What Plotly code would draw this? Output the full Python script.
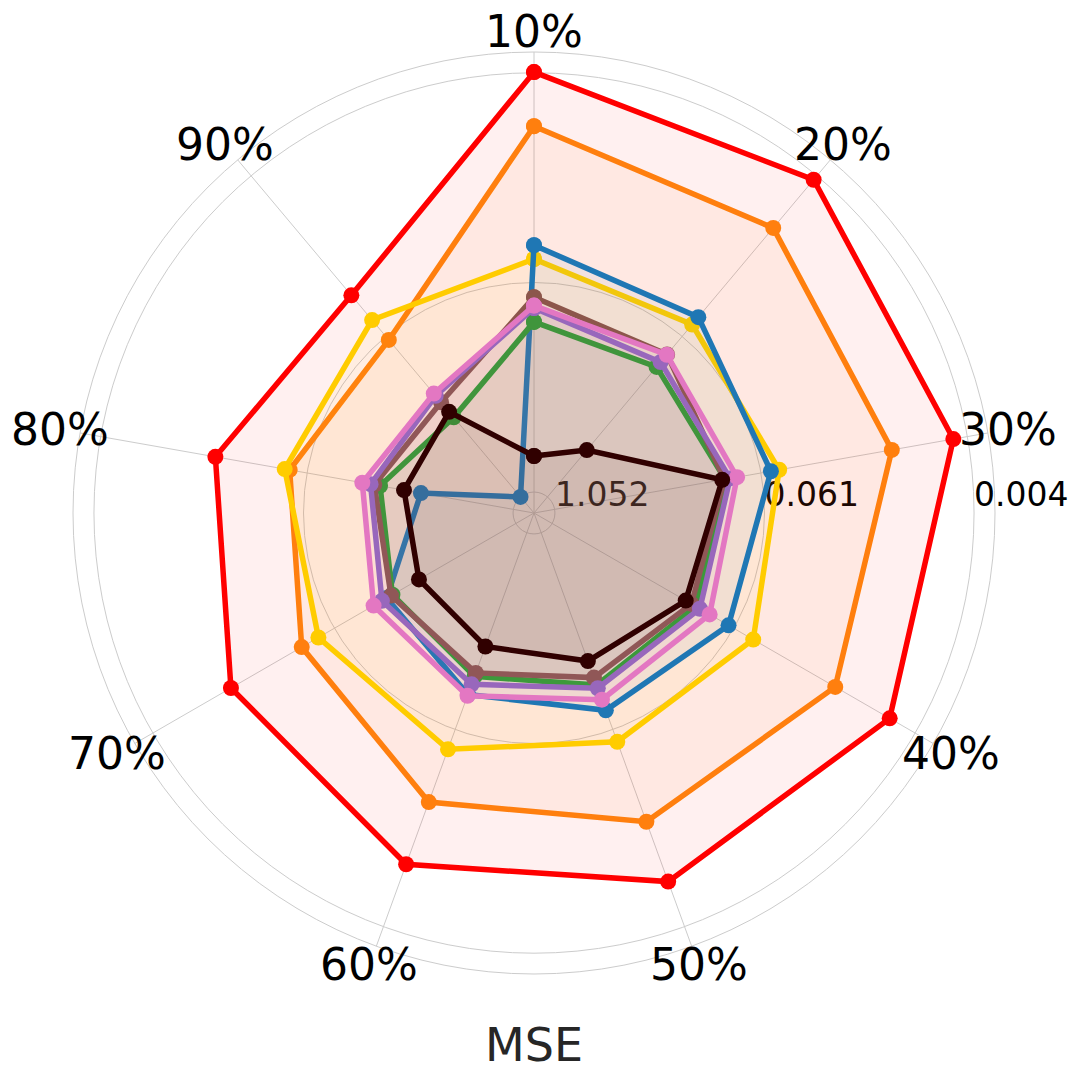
import math
import plotly.graph_objects as go

# ---------------- data ----------------
categories = ["10%", "20%", "30%", "40%", "50%", "60%", "70%", "80%", "90%"]

# radial score (outer = lower MSE)
red_vals    = [1.052, 1.038, 1.016, 0.980, 0.936, 0.892, 0.835, 0.772, 0.678]
orange_vals = [0.923, 0.888, 0.867, 0.830, 0.784, 0.734, 0.640, 0.592, 0.539]
yellow_vals = [0.606, 0.587, 0.594, 0.604, 0.581, 0.600, 0.594, 0.604, 0.601]
blue_vals   = [0.639, 0.610, 0.574, 0.536, 0.501, 0.461, 0.406, 0.274, 0.050]
green_vals  = [0.456, 0.455, 0.463, 0.446, 0.437, 0.415, 0.390, 0.373, 0.298]
brown_vals  = [0.515, 0.494, 0.461, 0.434, 0.418, 0.406, 0.394, 0.387, 0.345]
purple_vals = [0.489, 0.470, 0.475, 0.457, 0.445, 0.435, 0.419, 0.396, 0.365]
pink_vals   = [0.495, 0.493, 0.492, 0.484, 0.474, 0.464, 0.442, 0.416, 0.372]
dark_vals   = [0.136, 0.196, 0.456, 0.418, 0.376, 0.339, 0.317, 0.315, 0.315]

radial_tickvals = [0.05, 0.55, 1.05]
radial_ticktext = ["1.052", "0.061", "0.004"]
radial_range = [0, 1.1]

title_text = "MSE"

# ---------------- style ----------------
series = [
    (red_vals, "#ff0000"),
    (orange_vals, "#ff7f0e"),
    (yellow_vals, "#ffcc00"),
    (blue_vals, "#1f77b4"),
    (green_vals, "#2ca02c"),
    (brown_vals, "#8c564b"),
    (purple_vals, "#9467bd"),
    (pink_vals, "#e377c2"),
    (dark_vals, "#300000"),
]


def rgba(hexcol, a):
    h = hexcol.lstrip("#")
    r, g, b = int(h[0:2], 16), int(h[2:4], 16), int(h[4:6], 16)
    return f"rgba({r},{g},{b},{a})"


W, H = 1080, 1079
cx, cy = 534, 513          # centre in pixels (from top)
R = 461                    # polar radius in pixels

fig = go.Figure()
for vals, col in series:
    fig.add_trace(go.Scatterpolar(
        r=vals + vals[:1],
        theta=categories + categories[:1],
        mode="lines+markers",
        line=dict(color=col, width=5.5),
        marker=dict(color=col, size=16),
        fill="toself",
        fillcolor=rgba(col, 0.06),
        showlegend=False,
        hoverinfo="skip",
    ))

# pad labels so their left edge sits on the grid circle
pad = "\u2007\u2008\u2007\u2007\u2007"
fig.update_layout(
    width=W, height=H,
    margin=dict(l=0, r=0, t=0, b=0),
    paper_bgcolor="white",
    font=dict(family="DejaVu Sans", color="black"),
    polar=dict(
        domain=dict(x=[(cx - R) / W, (cx + R) / W],
                    y=[(H - cy - R) / H, (H - cy + R) / H]),
        bgcolor="white",
        angularaxis=dict(
            type="category",
            categoryarray=categories,
            rotation=90,
            direction="clockwise",
            showticklabels=False,
            ticks="",
            showline=True,
            linecolor="#cccccc",
            linewidth=1,
            showgrid=True,
            gridcolor="#cccccc",
            gridwidth=1,
            layer="below traces",
        ),
        radialaxis=dict(
            range=radial_range,
            tickvals=radial_tickvals,
            ticktext=[pad + t for t in radial_ticktext],
            angle=0,
            side="counterclockwise",
            tickangle=0,
            showline=False,
            ticks="",
            showgrid=True,
            gridcolor="#cccccc",
            gridwidth=1,
            tickfont=dict(size=33, color="black", family="DejaVu Sans"),
            layer="below traces",
        ),
    ),
)

# angular category labels, centred just outside the rim
label_r = 481
for i, cat in enumerate(categories):
    ang = math.radians(90 - 40 * i)
    px = cx + label_r * math.cos(ang)
    py = (H - cy) + label_r * math.sin(ang)
    fig.add_annotation(
        x=px / W, y=py / H, xref="paper", yref="paper",
        text=cat, showarrow=False, xanchor="center", yanchor="middle",
        font=dict(size=44, color="black", family="DejaVu Sans"),
    )

fig.add_annotation(
    x=cx / W, y=(H - 1045) / H, xref="paper", yref="paper",
    text=title_text, showarrow=False, xanchor="center", yanchor="middle",
    font=dict(size=46, color="#262626", family="DejaVu Sans"),
)

fig.write_html("out.html")
